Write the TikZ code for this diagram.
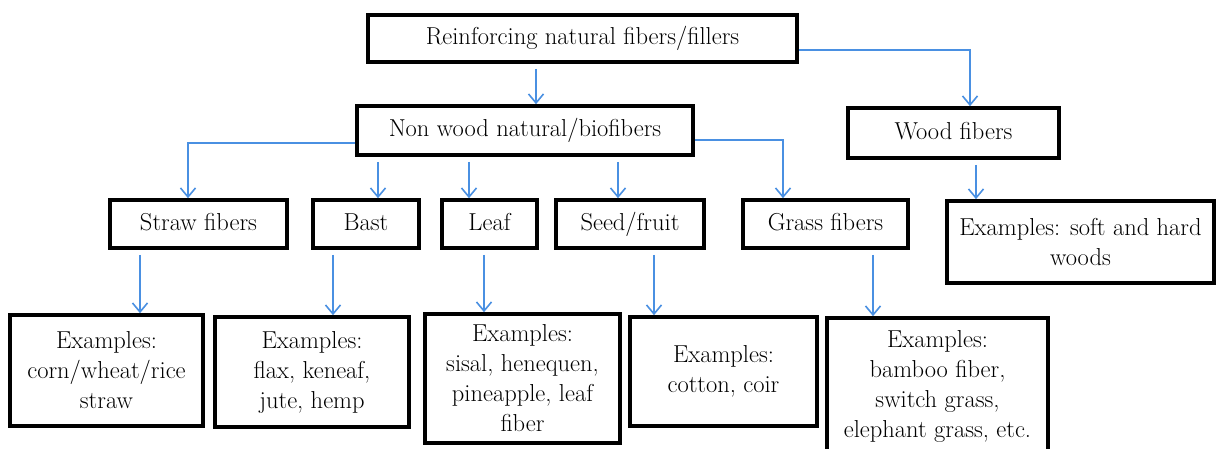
\documentclass[tikz,border=0pt]{standalone}
\usetikzlibrary{arrows.meta}
\definecolor{linkblue}{RGB}{74,144,226}
\tikzset{
  box/.style={draw=black, line width=3.6pt, align=center, inner sep=0pt,
    font=\fontsize{24.5}{30}\selectfont, text=black},
  arr/.style={draw=linkblue, line width=1.6pt, -{Straight Barb[length=9pt,width=15pt,line width=1.6pt]}, shorten <=5pt}
}
\begin{document}
\begin{tikzpicture}[x=1pt,y=-1pt]
\clip (0,0) rectangle (1216,448);
\fill[white] (0,0) rectangle (1216,448);
% nodes
\node[box, minimum width=429pt, minimum height=47pt] (top) at (582.5,38.5) {\strut Reinforcing natural fibers/fillers};
\node[box, minimum width=336pt, minimum height=49pt] (nonwood) at (525,130.5) {\strut Non wood natural/biofibers};
\node[box, minimum width=211pt, minimum height=50pt] (wood) at (953.5,133) {\strut Wood fibers};
\node[box, minimum width=177pt, minimum height=48pt] (straw) at (198.5,224) {\strut Straw fibers};
\node[box, minimum width=106pt, minimum height=48pt] (bast) at (366,224) {\strut Bast};
\node[box, minimum width=95pt, minimum height=48pt] (leaf) at (489.5,224) {\strut Leaf};
\node[box, minimum width=148pt, minimum height=48pt] (seed) at (630,224) {\strut Seed/fruit};
\node[box, minimum width=165pt, minimum height=48pt] (grass) at (825.5,224) {\strut Grass fibers};
\node[box, minimum width=267pt, minimum height=82pt] (woodex) at (1080.5,242) {Examples: soft and hard\\woods};
\node[box, minimum width=193pt, minimum height=111pt] (strawex) at (106.5,370.5) {Examples:\\corn/wheat/rice\\straw};
\node[box, minimum width=194pt, minimum height=110pt] (bastex) at (312,372) {Examples:\\flax, keneaf,\\jute, hemp};
\node[box, minimum width=195pt, minimum height=129pt] (leafex) at (522.5,378.5) {Examples:\\sisal, henequen,\\pineapple, leaf\\fiber};
\node[box, minimum width=187pt, minimum height=109pt] (seedex) at (723.5,371.5) {Examples:\\cotton, coir};
\node[box, minimum width=221pt, minimum height=137pt] (grassex) at (937.5,386.5) {Examples:\\bamboo fiber,\\switch grass,\\elephant grass, etc.};
% connectors
\draw[arr] (536,0 |- top.south) -- (536,0 |- nonwood.north);
\draw[arr, shorten <=0pt] (top.east |- 0,50) -| (970,0 |- wood.north);
\draw[arr, shorten <=0pt] (nonwood.east |- 0,140) -| (783,0 |- grass.north);
\draw[arr, shorten <=0pt] (nonwood.west |- 0,143) -| (188,0 |- straw.north);
\draw[arr] (378,0 |- nonwood.south) -- (378,0 |- bast.north);
\draw[arr] (469,0 |- nonwood.south) -- (469,0 |- leaf.north);
\draw[arr] (618,0 |- nonwood.south) -- (618,0 |- seed.north);
\draw[arr] (140,0 |- straw.south) -- (140,0 |- strawex.north);
\draw[arr] (333,0 |- bast.south) -- (333,0 |- bastex.north);
\draw[arr] (484,0 |- leaf.south) -- (484,0 |- leafex.north);
\draw[arr] (654,0 |- seed.south) -- (654,0 |- seedex.north);
\draw[arr] (873,0 |- grass.south) -- (873,0 |- grassex.north);
\draw[arr] (976,0 |- wood.south) -- (976,0 |- woodex.north);
\end{tikzpicture}
\end{document}
